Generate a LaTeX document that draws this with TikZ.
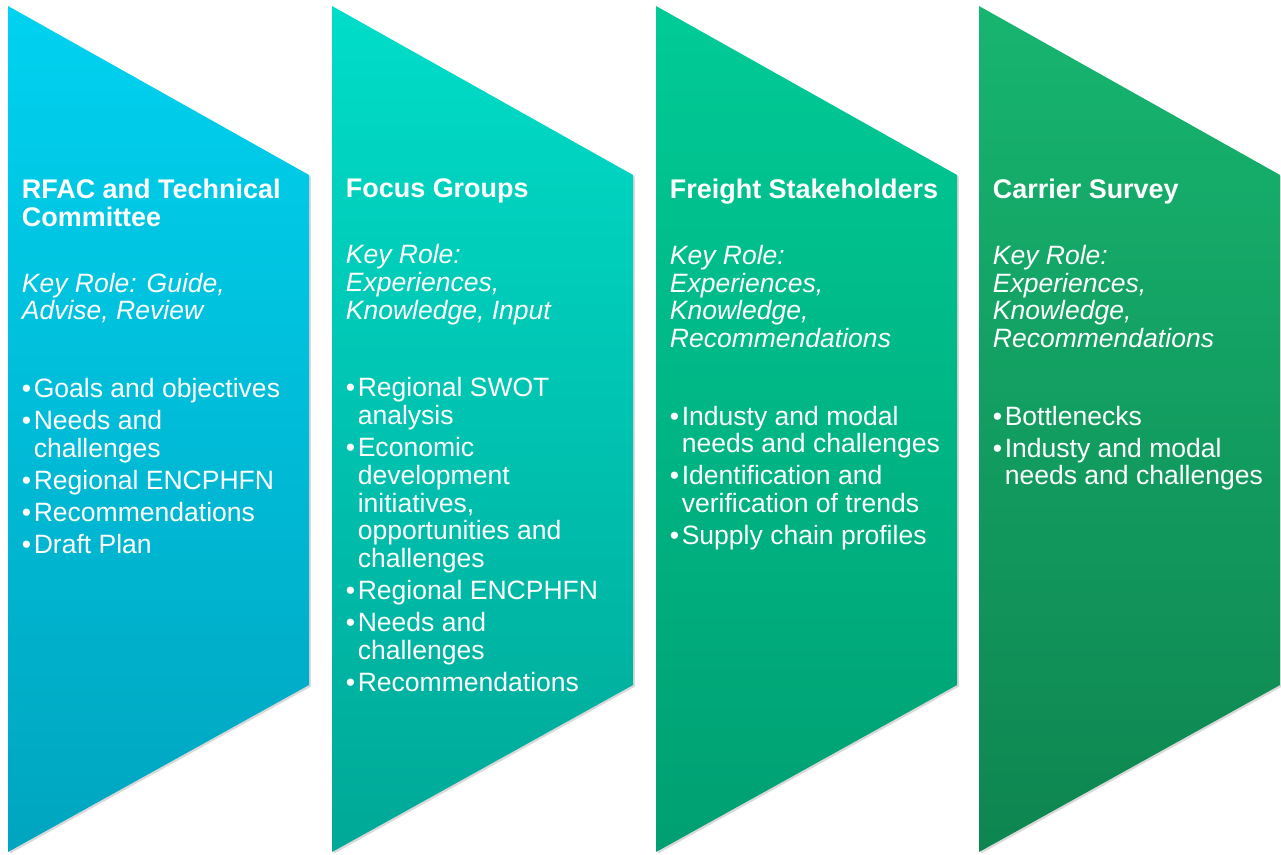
\documentclass[tikz,border=0pt]{standalone}
\usepackage{fontspec}
\setmainfont{Liberation Sans}
\usetikzlibrary{shadows}

\definecolor{rfacTop}{HTML}{00D2F0}
\definecolor{rfacBot}{HTML}{00A5BF}
\definecolor{focusTop}{HTML}{00DDC9}
\definecolor{focusBot}{HTML}{00A897}
\definecolor{freightTop}{HTML}{00CB97}
\definecolor{freightBot}{HTML}{009F71}
\definecolor{carrierTop}{HTML}{17B570}
\definecolor{carrierBot}{HTML}{0E8550}

\newcommand{\bul}{\makebox[6.8pt][l]{\textbullet}}
\newcommand{\ind}{\hspace*{6.8pt}}
\newcommand{\colhead}[1]{{\fontsize{15.35}{15.8}\selectfont\textbf{#1}}}

\begin{document}
\begin{tikzpicture}[x=0.02cm,y=-0.02cm]
    \useasboundingbox (0,0) rectangle (1281,855);
    \tikzset{chevron/.style = {%
        drop shadow={opacity=0.3,shadow xshift=1pt,shadow yshift=-1pt}},
      coltext/.style = {%
        anchor=north west, inner sep=0pt, align=left, text=white,
        font=\fontsize{15.1}{15.8}\selectfont}}
    % the four pentagons
    \foreach \L/\ctop/\cbot in {8/rfacTop/rfacBot, 332/focusTop/focusBot,
        656/freightTop/freightBot, 979/carrierTop/carrierBot}
      \path[chevron, top color=\ctop, bottom color=\cbot]
        (\L,6) -- (\L+301,175) -- (\L+301,685) -- (\L,852) -- cycle;
    % texts
    \node[coltext] (rfac) at (21.5,178.5) {%
      \colhead{RFAC and Technical}\\
      \colhead{Committee}\\[21.7pt]
      \textit{Key Role: Guide,}\\
      \textit{Advise, Review}\\[28.3pt]
      \bul Goals and objectives\\[2.5pt]
      \bul Needs and\\
      \ind challenges\\[2.5pt]
      \bul Regional ENCPHFN\\[2.5pt]
      \bul Recommendations\\[2.5pt]
      \bul Draft Plan};
    \node[coltext] (focus) at (345.5,178.5) {%
      \colhead{Focus Groups}\\[21.7pt]
      \textit{Key Role:}\\
      \textit{Experiences,}\\
      \textit{Knowledge, Input}\\[28.3pt]
      \bul Regional SWOT\\
      \ind analysis\\[2.5pt]
      \bul Economic\\
      \ind development\\
      \ind initiatives,\\
      \ind opportunities and\\
      \ind challenges\\[2.5pt]
      \bul Regional ENCPHFN\\[2.5pt]
      \bul Needs and\\
      \ind challenges\\[2.5pt]
      \bul Recommendations};
    \node[coltext] (freight) at (669.5,178.5) {%
      \colhead{Freight Stakeholders}\\[21.7pt]
      \textit{Key Role:}\\
      \textit{Experiences,}\\
      \textit{Knowledge,}\\
      \textit{Recommendations}\\[28.3pt]
      \bul Industy and modal\\
      \ind needs and challenges\\[2.5pt]
      \bul Identification and\\
      \ind verification of trends\\[2.5pt]
      \bul Supply chain profiles};
    \node[coltext] (carrier) at (992.5,178.5) {%
      \colhead{Carrier Survey}\\[21.7pt]
      \textit{Key Role:}\\
      \textit{Experiences,}\\
      \textit{Knowledge,}\\
      \textit{Recommendations}\\[28.3pt]
      \bul Bottlenecks\\[2.5pt]
      \bul Industy and modal\\
      \ind needs and challenges};
\end{tikzpicture}
\end{document}
